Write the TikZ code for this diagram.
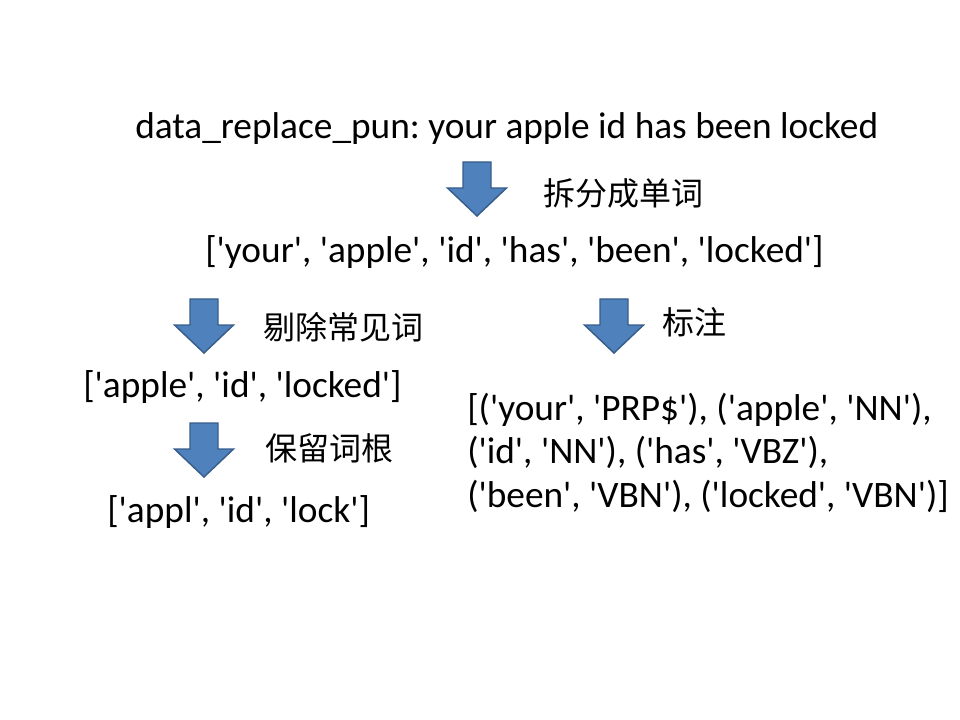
\documentclass[tikz,border=0pt]{standalone}
\usepackage{fontspec}
\setmainfont{Carlito}
\newfontfamily\cjk{Noto Sans CJK SC}
\newcommand{\sq}{\textquotesingle}
\definecolor{arrowfill}{RGB}{79,129,189}
\definecolor{arrowline}{RGB}{56,93,138}
\tikzset{txt/.style = {anchor=base west, inner sep=0,
                       font=\fontsize{28}{32.6}\selectfont}}
\tikzset{lbl/.style = {anchor=west, inner sep=0,
                       font=\cjk\fontsize{24}{29}\selectfont}}
\tikzset{blockdown/.pic = {
  \draw [fill=arrowfill, draw=arrowline, line width=1.1pt, line join=miter]
    (-14, 0) -- (14, 0) -- (14, 26) -- (29.5, 26) -- (0, 54)
    -- (-29.5, 26) -- (-14, 26) -- cycle;}}

\begin{document}
\begin{tikzpicture}[x=0.75pt, y=-0.75pt]
      \useasboundingbox (0, 0) rectangle (960, 720);

      \node (raw) at (135, 139) [txt] {data\_replace\_pun:\ your apple id has been locked};

      \pic at (477, 162) {blockdown};
      \node (split) at (543, 193) [lbl] {拆分成单词};

      \node (words) at (205, 263) [txt] {[\sq your\sq, \sq apple\sq, \sq id\sq, \sq has\sq, \sq been\sq, \sq locked\sq]};

      \pic at (204, 299) {blockdown};
      \node (stop) at (263, 327) [lbl] {剔除常见词};
      \pic at (614, 299) {blockdown};
      \node (tag) at (662, 322) [lbl] {标注};

      \node (kept) at (83, 397) [txt] {[\sq apple\sq, \sq id\sq, \sq locked\sq]};

      \pic at (204, 423) {blockdown};
      \node (stem) at (265, 448) [lbl] {保留词根};

      \node (stems) at (107, 522) [txt] {[\sq appl\sq, \sq id\sq, \sq lock\sq]};

      % base anchor of a multi-line node sits on its last line
      \node (tags) at (467, 507) [txt, align=left]
        {[(\sq your\sq, \sq PRP\$\sq), (\sq apple\sq, \sq NN\sq),\\
         (\sq id\sq, \sq NN\sq), (\sq has\sq, \sq VBZ\sq),\\
         (\sq been\sq, \sq VBN\sq), (\sq locked\sq, \sq VBN\sq)]};
    \end{tikzpicture}
\end{document}
